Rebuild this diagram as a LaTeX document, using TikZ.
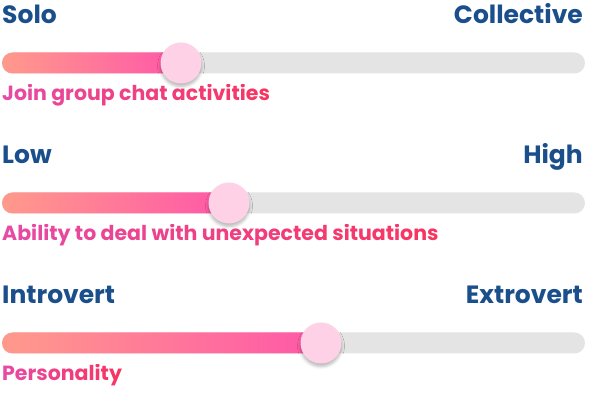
\documentclass[tikz,border=0pt]{standalone}
\usepackage{fontspec}
\setmainfont{Poppins}
\usetikzlibrary{shadows.blur,fadings}

\definecolor{endblue}{HTML}{1A4F8C}
\definecolor{labelmagenta}{HTML}{E64BA6}
\definecolor{labelred}{HTML}{F8345F}
\definecolor{trackgray}{HTML}{E4E4E4}
\definecolor{fillsalmon}{HTML}{FF9A8B}
\definecolor{fillpink}{HTML}{FF57A8}
\definecolor{knobpink}{HTML}{FFD1E6}

\tikzset{
  endtext/.style={text=endblue, font=\fontsize{25}{28}\selectfont\bfseries, inner sep=0pt},
  labeltext/.style={font=\fontsize{20.5}{24}\selectfont\bfseries, inner sep=0pt, anchor=base west},
  knob/.style={circle, fill=knobpink, minimum size=41pt, inner sep=0pt,
    blur shadow={shadow xshift=0pt, shadow yshift=-3pt, shadow blur radius=3pt, shadow opacity=28}}
}

% label texts as fadings, so that they can take a gradient
\begin{tikzfadingfrompicture}[name=whatfade1]
  \node[labeltext, anchor=center, text=transparent!0] at (0,0) {Join group chat activities};
\end{tikzfadingfrompicture}
\begin{tikzfadingfrompicture}[name=whatfade2]
  \node[labeltext, anchor=center, text=transparent!0] at (0,0) {Ability to deal with unexpected situations};
\end{tikzfadingfrompicture}
\begin{tikzfadingfrompicture}[name=whatfade3]
  \node[labeltext, anchor=center, text=transparent!0] at (0,0) {Personality};
\end{tikzfadingfrompicture}

\begin{document}
\begin{tikzpicture}[x=1pt, y=-1pt]

    \useasboundingbox (0,0) rectangle (600,411);

    % Sliders
    \foreach \i/\yshift/\knobx/\lo/\hi/\what in {
        1/0/181/Solo/Collective/Join group chat activities,
        2/140/229/Low/High/Ability to deal with unexpected situations,
        3/280/321/Introvert/Extrovert/Personality} {

      % Track
      \fill[trackgray, rounded corners=10.5pt] (2,52.5+\yshift) rectangle (585,73.5+\yshift);
      \shade[rounded corners=10.5pt, left color=fillsalmon, right color=fillpink] (2,52.5+\yshift) rectangle (\knobx,73.5+\yshift);

      % Knob
      \node[knob] (knob\i) at (\knobx,63+\yshift) {};

      % Texts
      \node[endtext, anchor=base west] (lo\i) at (2,24+\yshift) {\lo};
      \node[endtext, anchor=base east] (hi\i) at (583,24+\yshift) {\hi};
      \node[labeltext] (what\i) at (2,101+\yshift) {\phantom{\what}};
      \shade[path fading=whatfade\i, fit fading=false, fading transform={shift={(what\i.center)}},
        left color=labelmagenta, right color=labelred]
        (what\i.south west) rectangle (what\i.north east);
    }
  \end{tikzpicture}
\end{document}
